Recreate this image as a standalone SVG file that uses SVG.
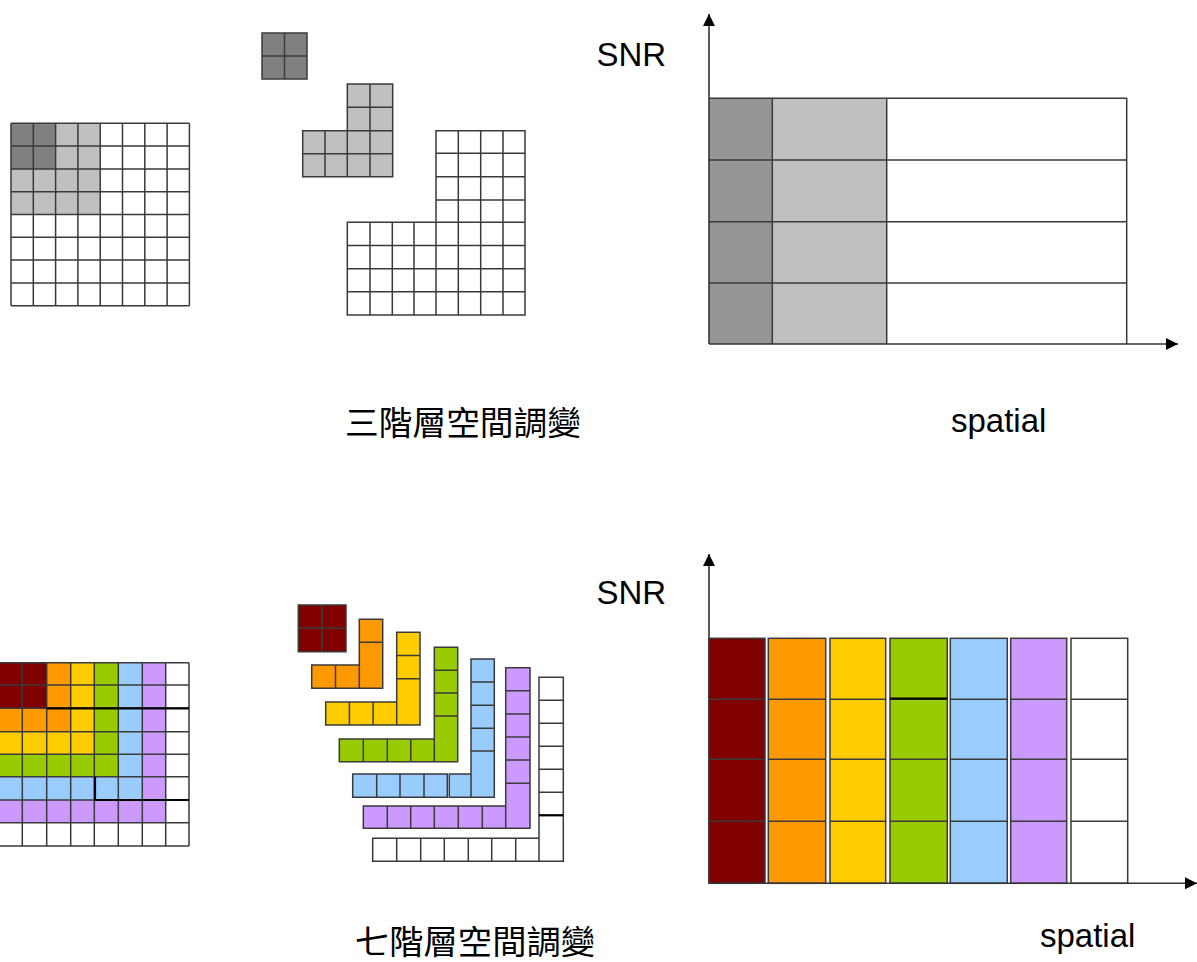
<svg xmlns="http://www.w3.org/2000/svg" width="1197" height="962" viewBox="0 0 1197 962">
<style>
.c{stroke:#3a3a3a;stroke-width:1.5}
.g{fill:none;stroke:#3a3a3a;stroke-width:1.5}
.k{fill:none;stroke:#000;stroke-width:2.2}
.ax{fill:none;stroke:#333;stroke-width:1.6}
.dg{fill:#808080}.lg{fill:#c0c0c0}.mg{fill:#969696}.w{fill:#fff}
.dr{fill:#800000}.or{fill:#ff9900}.ye{fill:#ffcc00}.gr{fill:#99cc00}.bl{fill:#99ccff}.pu{fill:#cc99ff}
.lat{font-family:"Liberation Sans",Arial,sans-serif;font-size:33px;fill:#000}
.cjk{font-family:"Noto Sans CJK TC","Noto Sans CJK SC",sans-serif;font-size:33px;fill:#000}
</style>
<defs>
<marker id="arr" markerUnits="userSpaceOnUse" markerWidth="14" markerHeight="14" refX="12" refY="6" orient="auto">
<path d="M0,0 L12,6 L0,12 z" fill="#000"/>
</marker>
</defs>
<rect width="1197" height="962" fill="#fff"/>

<!-- top-left grid -->
<g id="grid3">
<rect x="11" y="123.3" width="178.4" height="182.4" class="w"/>
<rect x="11" y="123.3" width="89.2" height="91.2" class="lg"/>
<rect x="11" y="123.3" width="44.6" height="45.6" class="dg"/>
<path class="g" d="M11,123.3V305.7M33.3,123.3V305.7M55.6,123.3V305.7M77.9,123.3V305.7M100.2,123.3V305.7M122.5,123.3V305.7M144.8,123.3V305.7M167.1,123.3V305.7M189.4,123.3V305.7M11,123.3H189.4M11,146.1H189.4M11,168.9H189.4M11,191.7H189.4M11,214.5H189.4M11,237.3H189.4M11,260.1H189.4M11,282.9H189.4M11,305.7H189.4"/>
</g>

<!-- top-middle pieces -->
<g id="piece3-1">
<rect x="262" y="33" width="45" height="46" class="dg"/>
<path class="g" d="M262,33H307V79H262ZM284.5,33V79M262,56H307"/>
</g>
<g id="piece3-2">
<path class="lg" d="M347.3,84H392.7V176.7H302.7V130.7H347.3Z"/>
<path class="g" d="M347.3,84H392.7V176.7H302.7V130.7H347.3ZM370,84V176.7M347.3,130.7V176.7M325,130.7V176.7M347.3,107.3H392.7M302.7,130.7H392.7M302.7,153.7H392.7"/>
</g>
<g id="piece3-3">
<path class="w" d="M436,130.7H525V315H347.3V222.3H436Z"/>
<path class="g" d="M436,130.7H525V315H347.3V222.3H436ZM458.3,130.7V315M480.7,130.7V315M503,130.7V315M436,222.3V315M370,222.3V315M392.3,222.3V315M414,222.3V315M436,153.3H525M436,176.7H525M436,200H525M347.3,222.3H525M347.3,245.5H525M347.3,268.7H525M347.3,291.8H525"/>
</g>

<!-- top chart -->
<g id="chart3">
<rect x="709" y="98.3" width="63.3" height="245.7" class="mg"/>
<rect x="772.3" y="98.3" width="114.4" height="245.7" class="lg"/>
<rect x="886.7" y="98.3" width="240" height="245.7" class="w"/>
<path class="g" d="M709,98.3H1126.7V344M709,160H1126.7M709,221.7H1126.7M709,283H1126.7M772.3,98.3V344M886.7,98.3V344"/>
</g>

<!-- bottom-left grid -->
<g id="grid7">
<rect x="-1.5" y="662.7" width="190.5" height="183.3" class="w"/>
<rect x="-1.5" y="662.7" width="167.2" height="160" class="pu"/>
<rect x="-1.5" y="662.7" width="143.8" height="137.3" class="bl"/>
<rect x="-1.5" y="662.7" width="119.8" height="114" class="gr"/>
<rect x="-1.5" y="662.7" width="95.8" height="91.6" class="ye"/>
<rect x="-1.5" y="662.7" width="72.2" height="69" class="or"/>
<rect x="-1.5" y="662.7" width="48.2" height="45.6" class="dr"/>
<path class="g" d="M22.3,662.7V846M46.7,662.7V846M70.7,662.7V846M94.3,662.7V846M118.3,662.7V846M142.3,662.7V846M165.7,662.7V846M189,662.7V846M-2,662.7H189M-2,685H189M-2,708.3H189M-2,731.7H189M-2,754.3H189M-2,776.7H189M-2,800H189M-2,822.7H189M-2,846H189"/>
<path class="k" d="M46.7,708.3H189M95,776.7V800H189"/>
</g>

<!-- bottom-middle pieces -->
<g id="piece7-1">
<rect x="298.3" y="605" width="47.7" height="46.7" class="dr"/>
<path class="g" d="M298.3,605H346V651.7H298.3ZM322.2,605V651.7M298.3,628.3H346"/>
</g>
<g id="piece7-2">
<path class="or" d="M359.3,619.3H382.7V688.3H311.7V665H359.3Z"/>
<path class="g" d="M359.3,619.3H382.7V688.3H311.7V665H359.3ZM359.3,642.3H382.7M359.3,665V688.3M335.5,665V688.3"/>
</g>
<g id="piece7-3">
<path class="ye" d="M396.7,632.3H420V725H325.7V701.9H396.7Z"/>
<path class="g" d="M396.7,632.3H420V725H325.7V701.9H396.7ZM396.7,655.5H420M396.7,678.7H420M396.7,701.9V725M373.1,701.9V725M349.4,701.9V725"/>
</g>
<g id="piece7-4">
<path class="gr" d="M434.3,647.3H457.7V761.7H339.3V738.9H434.3Z"/>
<path class="g" d="M434.3,647.3H457.7V761.7H339.3V738.9H434.3ZM434.3,670.2H457.7M434.3,693.1H457.7M434.3,716H457.7M434.3,738.9V761.7M410.8,738.9V761.7M387.3,738.9V761.7M363.3,738.9V761.7"/>
</g>
<g id="piece7-5">
<path class="bl" d="M471,659H494.3V797.3H449.3V774H471Z"/>
<rect x="352.7" y="774" width="94.6" height="23.3" class="bl"/>
<path class="g" d="M471,659H494.3V797.3H449.3V774H471ZM471,682.1H494.3M471,705.2H494.3M471,728.3H494.3M471,751.1H494.3M471,774V797.3M352.7,774H447.3V797.3H352.7ZM376.7,774V797.3M400,774V797.3M424,774V797.3"/>
</g>
<g id="piece7-6">
<path class="pu" d="M505.7,667.7H530V828.3H363.3V806H505.7Z"/>
<path class="g" d="M505.7,667.7H530V828.3H363.3V806H505.7ZM505.7,690.8H530M505.7,713.9H530M505.7,737H530M505.7,760.1H530M505.7,783.2H530M505.7,806V828.3M482.3,806V828.3M458.3,806V828.3M434.3,806V828.3M410.7,806V828.3M387.3,806V828.3"/>
</g>
<g id="piece7-7">
<path class="w" d="M539,677.3H563.3V861.3H372.7V838.3H539Z"/>
<path class="g" d="M539,677.3H563.3V861.3H372.7V838.3H539ZM539,700.3H563.3M539,723.3H563.3M539,746.3H563.3M539,769.3H563.3M539,792.3H563.3M539,815.3H563.3M539,838.3V861.3M515.7,838.3V861.3M491.7,838.3V861.3M468.3,838.3V861.3M444.3,838.3V861.3M420.7,838.3V861.3M396.7,838.3V861.3"/>
<path class="k" d="M539,815.3H563.3"/>
</g>

<!-- bottom chart -->
<g id="chart7">
<rect x="709" y="638.3" width="56" height="245" class="dr c"/>
<rect x="768.3" y="638.3" width="57.4" height="245" class="or c"/>
<rect x="830" y="638.3" width="55.7" height="245" class="ye c"/>
<rect x="890" y="638.3" width="57.3" height="245" class="gr c"/>
<rect x="950.3" y="638.3" width="57" height="245" class="bl c"/>
<rect x="1010.7" y="638.3" width="56" height="245" class="pu c"/>
<rect x="1071" y="638.3" width="56.7" height="245" class="w c"/>
<path class="g" d="M709,699.3H765M768.3,699.3H825.7M830,699.3H885.7M890,699.3H947.3M950.3,699.3H1007.3M1010.7,699.3H1066.7M1071,699.3H1127.7M709,759.3H765M768.3,759.3H825.7M830,759.3H885.7M890,759.3H947.3M950.3,759.3H1007.3M1010.7,759.3H1066.7M1071,759.3H1127.7M709,821.3H765M768.3,821.3H825.7M830,821.3H885.7M890,821.3H947.3M950.3,821.3H1007.3M1010.7,821.3H1066.7M1071,821.3H1127.7"/>
<path class="k" d="M890,698.5H947.3"/>
</g>

<!-- axes -->
<g id="connectors">
<path class="ax" d="M709,344V14" marker-end="url(#arr)"/>
<path class="ax" d="M709,344H1178" marker-end="url(#arr)"/>
<path class="ax" d="M709,883.3V554" marker-end="url(#arr)"/>
<path class="ax" d="M709,883.3H1197" marker-end="url(#arr)"/>
</g>

<!-- labels -->
<text class="lat" x="596.5" y="66">SNR</text>
<text class="lat" x="951" y="432">spatial</text>
<text class="cjk" x="345" y="435" textLength="236" lengthAdjust="spacingAndGlyphs">三階層空間調變</text>
<text class="lat" x="596.5" y="604">SNR</text>
<text class="lat" x="1040" y="947">spatial</text>
<text class="cjk" x="355" y="954" textLength="240" lengthAdjust="spacingAndGlyphs">七階層空間調變</text>
</svg>
